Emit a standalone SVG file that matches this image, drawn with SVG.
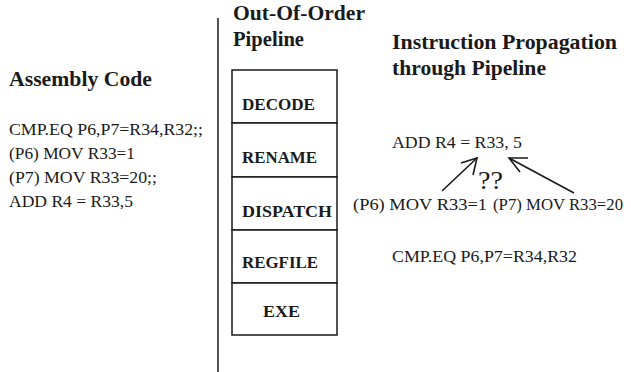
<svg xmlns="http://www.w3.org/2000/svg" width="631" height="372" viewBox="0 0 631 372">
  <style>
    text { font-family: "Liberation Serif", "Times New Roman", serif; fill: #1a1a1a; }
    .hd { font-weight: bold; font-size: 20px; }
    .code { font-size: 17.5px; }
    .stage { font-weight: bold; font-size: 17px; }
    .cell { fill: #ffffff; stroke: #1a1a1a; stroke-width: 1.5; }
    .rule { stroke: #1a1a1a; stroke-width: 1.5; }
    .conn { stroke: #1a1a1a; stroke-width: 1.6; fill: none; }
  </style>
  <rect width="631" height="372" fill="#ffffff"/>

  <!-- left column: source listing -->
  <g id="assembly">
    <text class="hd" x="9" y="86" textLength="143" lengthAdjust="spacingAndGlyphs">Assembly Code</text>
    <text class="code" x="9" y="135" textLength="194" lengthAdjust="spacingAndGlyphs">CMP.EQ P6,P7=R34,R32;;</text>
    <text class="code" x="9" y="159" textLength="126" lengthAdjust="spacingAndGlyphs">(P6) MOV R33=1</text>
    <text class="code" x="9" y="183" textLength="148" lengthAdjust="spacingAndGlyphs">(P7) MOV R33=20;;</text>
    <text class="code" x="9" y="207" textLength="124" lengthAdjust="spacingAndGlyphs">ADD R4 = R33,5</text>
  </g>

  <!-- divider -->
  <line class="rule" x1="218" y1="18" x2="218" y2="372"/>

  <!-- pipeline stages -->
  <g id="pipeline-title">
    <text class="hd" x="233" y="20" textLength="132" lengthAdjust="spacingAndGlyphs">Out-Of-Order</text>
    <text class="hd" x="233" y="46" textLength="71" lengthAdjust="spacingAndGlyphs">Pipeline</text>
  </g>
  <g id="decode">
    <rect class="cell" x="232" y="70" width="105" height="53"/>
    <text class="stage" x="242" y="110" textLength="73" lengthAdjust="spacingAndGlyphs">DECODE</text>
  </g>
  <g id="rename">
    <rect class="cell" x="232" y="123" width="105" height="54"/>
    <text class="stage" x="242" y="163" textLength="75" lengthAdjust="spacingAndGlyphs">RENAME</text>
  </g>
  <g id="dispatch">
    <rect class="cell" x="232" y="177" width="105" height="53"/>
    <text class="stage" x="242" y="217" textLength="90" lengthAdjust="spacingAndGlyphs">DISPATCH</text>
  </g>
  <g id="regfile">
    <rect class="cell" x="232" y="230" width="105" height="53"/>
    <text class="stage" x="242" y="268" textLength="76" lengthAdjust="spacingAndGlyphs">REGFILE</text>
  </g>
  <g id="exe">
    <rect class="cell" x="232" y="283" width="105" height="52"/>
    <text class="stage" x="263" y="317" textLength="37" lengthAdjust="spacingAndGlyphs">EXE</text>
  </g>

  <!-- propagation view -->
  <g id="propagation-title">
    <text class="hd" x="392" y="49" textLength="225" lengthAdjust="spacingAndGlyphs">Instruction Propagation</text>
    <text class="hd" x="392" y="75" textLength="154" lengthAdjust="spacingAndGlyphs">through Pipeline</text>
  </g>
  <g id="add">
    <text class="code" x="392" y="148" textLength="130" lengthAdjust="spacingAndGlyphs">ADD R4 = R33, 5</text>
  </g>
  <g id="mov-p6">
    <text class="code" x="353" y="210" textLength="134" lengthAdjust="spacingAndGlyphs">(P6) MOV R33=1</text>
  </g>
  <g id="mov-p7">
    <text class="code" x="493" y="210" textLength="130" lengthAdjust="spacingAndGlyphs">(P7) MOV R33=20</text>
  </g>
  <g id="cmp">
    <text class="code" x="392" y="262" textLength="185" lengthAdjust="spacingAndGlyphs">CMP.EQ P6,P7=R34,R32</text>
  </g>
  <g id="question">
    <text x="478" y="189" style="font-size:26px" textLength="25" lengthAdjust="spacingAndGlyphs">??</text>
  </g>

  <g id="connectors">
    <path class="conn" d="M442,191 L477,158"/>
    <path class="conn" d="M461,163 L477,158 L473,175"/>
    <path class="conn" d="M574,193 L509,158"/>
    <path class="conn" d="M528,158 L509,158 L520,172"/>
  </g>
</svg>
